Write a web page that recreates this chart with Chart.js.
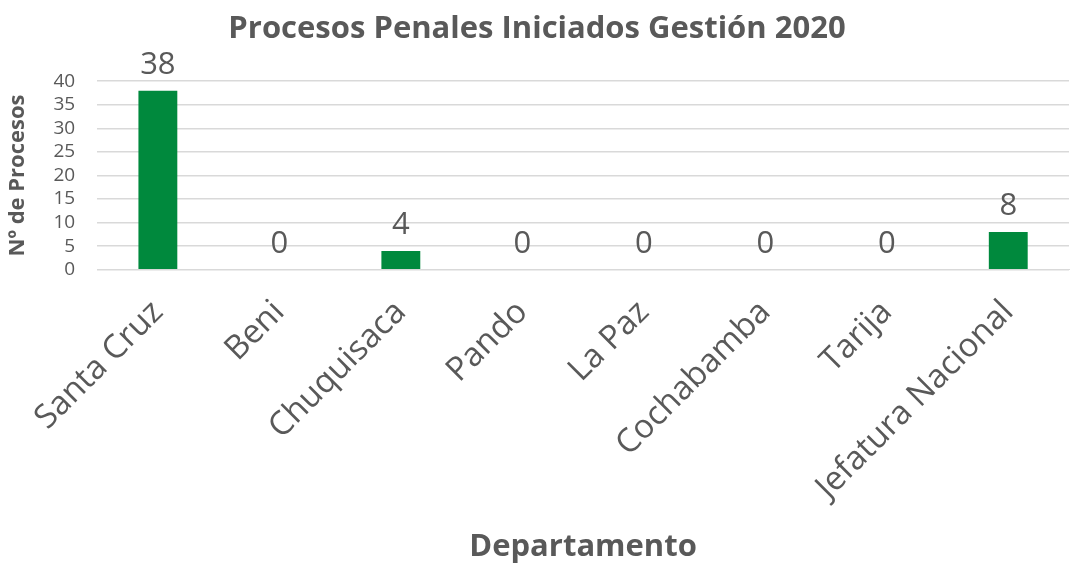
<!DOCTYPE html>
<html>
<head>
<meta charset="utf-8">
<script src="https://cdn.jsdelivr.net/npm/chart.js@4/dist/chart.umd.min.js"></script>
<style>
  html, body { margin: 0; padding: 0; background: #fff; }
  #wrap { width: 1071px; height: 565px; }
</style>
</head>
<body>
<div id="wrap"><canvas id="bar-chart"></canvas></div>
<script>
var departamentos = ['Santa Cruz', 'Beni', 'Chuquisaca', 'Pando', 'La Paz', 'Cochabamba', 'Tarija', 'Jefatura Nacional'];
var procesos = [38, 0, 4, 0, 0, 0, 0, 8];
var yTicks = [0, 5, 10, 15, 20, 25, 30, 35, 40];
var tituloX = 'Departamento';

var gris = '#595959';
var verde = '#00893D';
var fuente = "'Open Sans', 'Noto Sans', sans-serif";

// etiquetas de valor sobre cada barra + titulo del eje x centrado en el area
var etiquetas = {
    id: 'etiquetas',
    afterDatasetsDraw: function(chart) {
        var ctx = chart.ctx;
        var meta = chart.getDatasetMeta(0);
        ctx.save();
        ctx.font = '31px ' + fuente;
        ctx.fillStyle = gris;
        ctx.textAlign = 'center';
        ctx.textBaseline = 'alphabetic';
        meta.data.forEach(function(bar, i) {
            ctx.fillText(procesos[i], bar.x, bar.y - 17);
        });
        var area = chart.chartArea;
        ctx.font = 'bold 31px ' + fuente;
        ctx.textBaseline = 'middle';
        ctx.fillText(tituloX, (area.left + area.right) / 2, chart.height - 18);
        ctx.restore();
    }
};

var ctx = document.getElementById('bar-chart').getContext('2d');
var chart = new Chart(ctx, {
    type: 'bar',
    data: {
        labels: departamentos,
        datasets: [{
            label: 'Nº de Procesos',
            data: procesos,
            backgroundColor: verde,
            barPercentage: 0.32,
            categoryPercentage: 1
        }]
    },
    options: {
        responsive: true,
        maintainAspectRatio: false,
        animation: false,
        layout: { padding: { left: 5, right: 2, top: 0, bottom: 43 } },
        plugins: {
            legend: { display: false },
            tooltip: { enabled: false },
            title: {
                display: true,
                text: 'Procesos Penales Iniciados Gestión 2020',
                color: gris,
                font: { family: fuente, size: 31, weight: 'bold' },
                padding: { top: 11, bottom: 33 }
            }
        },
        scales: {
            x: {
                grid: { display: false },
                border: { color: '#d9d9d9' },
                ticks: {
                    color: gris,
                    font: { family: fuente, size: 33 },
                    maxRotation: 45,
                    minRotation: 45,
                    autoSkip: false,
                    padding: 15
                }
            },
            y: {
                min: 0,
                max: 40,
                afterBuildTicks: function(axis) {
                    axis.ticks = yTicks.map(function(v) { return { value: v }; });
                },
                grid: { color: '#d9d9d9', lineWidth: 1.5, drawTicks: false },
                border: { display: false },
                ticks: {
                    color: gris,
                    font: { family: fuente, size: 19, lineHeight: 1 },
                    autoSkip: false,
                    padding: 22
                },
                title: {
                    display: true,
                    text: 'Nº de Procesos',
                    color: gris,
                    font: { family: fuente, size: 22, weight: 'bold' },
                    padding: { top: 0, bottom: 0 }
                }
            }
        }
    },
    plugins: [etiquetas]
});
</script>
</body>
</html>
